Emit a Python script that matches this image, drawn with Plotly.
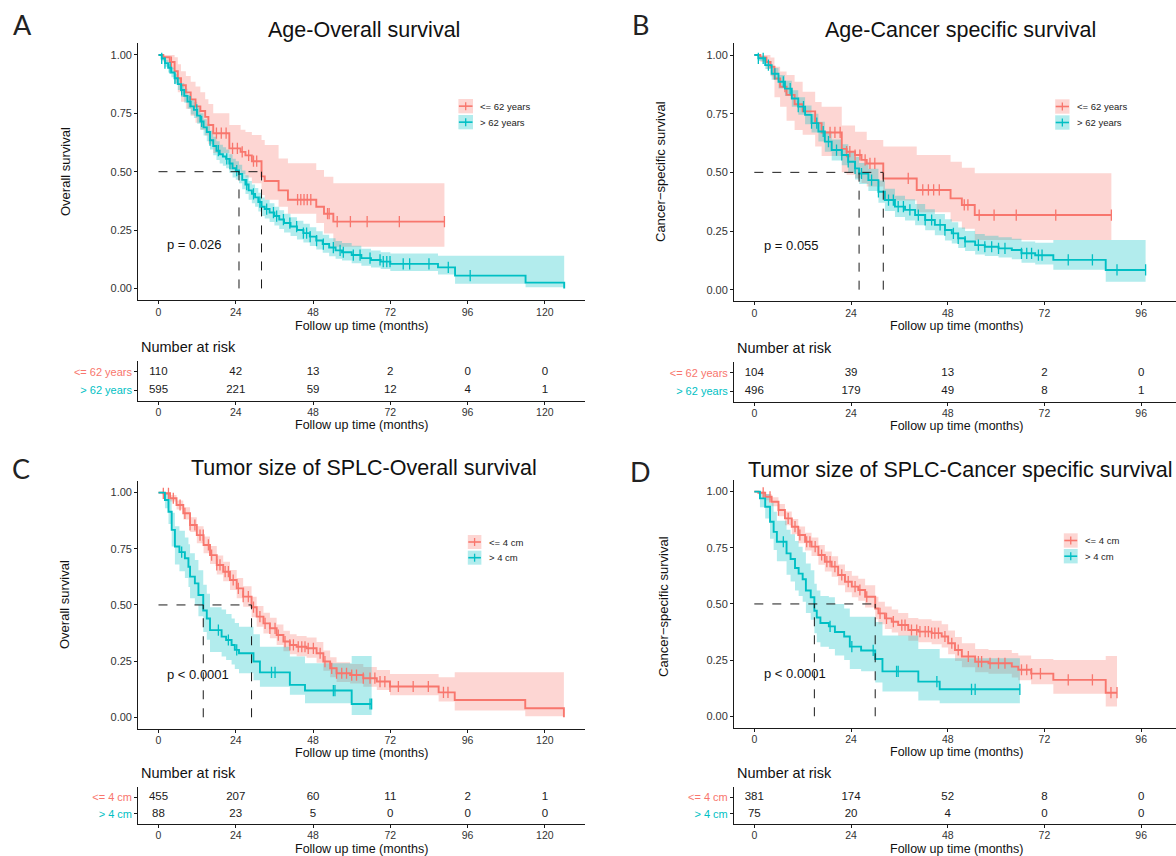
import plotly.graph_objects as go

W, H = 1176, 856
RED, TEAL = "#F8766D", "#00BFC4"
RED_FILL, TEAL_FILL = "rgba(248,118,109,0.3)", "rgba(0,191,196,0.3)"
FONT = "Liberation Sans, Arial, sans-serif"
INK = "#1a1a1a"

# ---------------- DATA ----------------
# Panel A: Age - Overall survival
a_le_t = [1.5, 3.5, 5, 6, 7, 8.5, 10, 11.5, 13, 14.5, 15.5, 17, 22, 25.5, 27, 29, 32, 33, 37.3, 40.2, 49, 51.4, 54.3]
a_le_s = [0.99, 0.97, 0.93, 0.90, 0.87, 0.84, 0.81, 0.78, 0.76, 0.735, 0.70, 0.665, 0.60, 0.585, 0.57, 0.545, 0.48, 0.46, 0.42, 0.38, 0.35, 0.32, 0.286]
a_le_lo = [0.97, 0.94, 0.88, 0.84, 0.80, 0.77, 0.74, 0.71, 0.68, 0.655, 0.62, 0.58, 0.51, 0.49, 0.475, 0.45, 0.40, 0.38, 0.35, 0.32, 0.28, 0.235, 0.179]
a_le_hi = [1.0, 1.0, 0.99, 0.96, 0.93, 0.91, 0.885, 0.865, 0.84, 0.81, 0.79, 0.75, 0.70, 0.68, 0.67, 0.657, 0.636, 0.614, 0.557, 0.536, 0.507, 0.478, 0.45]
a_le_cens = [4, 18, 19.5, 21, 23, 24.5, 26, 28, 29.5, 30.5, 43.2, 44.2, 45.2, 46.2, 47.3, 52.5, 53, 55.5, 59.6, 64.8, 74.8, 88.8]
a_le_end = 88.8

a_gt_t = [1, 2, 3, 4, 5, 6, 7, 8, 9, 10, 11, 12, 13, 14, 15, 16, 17, 18, 19, 20, 21, 22, 23, 24, 25, 26, 27, 28, 29, 30,
          31, 32, 33, 34.5, 36, 37.5, 39, 41, 43, 45, 47, 49, 51, 53, 55, 57, 60, 63, 66, 69, 72, 86.8, 92.1, 114, 126]
a_gt_s = [0.985, 0.965, 0.945, 0.925, 0.90, 0.875, 0.85, 0.825, 0.80, 0.78, 0.765, 0.74, 0.715, 0.69, 0.67, 0.635, 0.61,
          0.59, 0.575, 0.565, 0.555, 0.535, 0.515, 0.505, 0.49, 0.465, 0.445, 0.42, 0.405, 0.39, 0.37, 0.35, 0.34, 0.325,
          0.31, 0.295, 0.28, 0.265, 0.25, 0.237, 0.222, 0.205, 0.19, 0.175, 0.163, 0.155, 0.143, 0.13, 0.122, 0.115,
          0.105, 0.09, 0.055, 0.025, 0.0]
a_gt_lo = [0.975, 0.95, 0.925, 0.905, 0.875, 0.85, 0.82, 0.795, 0.77, 0.745, 0.73, 0.705, 0.68, 0.655, 0.63, 0.595, 0.57,
           0.55, 0.535, 0.525, 0.515, 0.495, 0.475, 0.465, 0.45, 0.425, 0.405, 0.38, 0.365, 0.35, 0.33, 0.31, 0.30, 0.285,
           0.27, 0.255, 0.24, 0.225, 0.21, 0.197, 0.182, 0.167, 0.153, 0.138, 0.127, 0.12, 0.108, 0.097, 0.09, 0.083,
           0.075, 0.06, 0.02, 0.005, 0.0]
a_gt_hi = [0.995, 0.98, 0.96, 0.945, 0.92, 0.90, 0.88, 0.855, 0.83, 0.81, 0.80, 0.775, 0.75, 0.725, 0.705, 0.675, 0.65,
           0.63, 0.615, 0.605, 0.595, 0.575, 0.555, 0.545, 0.53, 0.505, 0.485, 0.46, 0.445, 0.43, 0.41, 0.39, 0.38, 0.365,
           0.35, 0.335, 0.32, 0.305, 0.29, 0.277, 0.262, 0.245, 0.23, 0.215, 0.203, 0.195, 0.183, 0.17, 0.162, 0.155,
           0.15, 0.14, 0.14, 0.14, 0.0]
a_gt_cens = [1, 2, 3.6, 5.1, 7.2, 9.8, 11.9, 13.4, 16, 18.6, 21.2, 22.2, 24.3, 27.4, 29.5, 31.5, 33.6, 35.7, 36.7, 38.8,
             40.8, 42.9, 45, 46, 47.1, 49.1, 51.2, 54.3, 56.4, 57.4, 60.5, 62.6, 65.7, 68.8, 69.8, 70.9, 71.9, 76, 78,
             84, 90, 96.8]
a_gt_end = 126
a_medians = [25.0, 32.0]
a_pval = "p = 0.026"
a_groups = ["<= 62 years", "> 62 years"]
a_risk_times = [0, 24, 48, 72, 96, 120]
a_risk_le = [110, 42, 13, 2, 0, 0]
a_risk_gt = [595, 221, 59, 12, 4, 1]

# Panel B: Age - Cancer specific survival
b_le_t = [1.5, 3, 4, 5, 6.4, 8, 10, 12, 15.1, 16.7, 21.7, 22.9, 25, 26.6, 27.9, 32, 40.3, 48.7, 51.5, 54.7]
b_le_s = [0.99, 0.97, 0.95, 0.90, 0.865, 0.83, 0.79, 0.76, 0.71, 0.67, 0.60, 0.588, 0.574, 0.553, 0.538, 0.474, 0.425, 0.389, 0.361, 0.318]
b_le_lo = [0.97, 0.94, 0.91, 0.82, 0.78, 0.72, 0.68, 0.66, 0.61, 0.57, 0.50, 0.49, 0.475, 0.455, 0.44, 0.38, 0.33, 0.29, 0.26, 0.212]
b_le_hi = [1.0, 1.0, 0.99, 0.95, 0.93, 0.915, 0.886, 0.843, 0.80, 0.78, 0.70, 0.70, 0.673, 0.673, 0.638, 0.61, 0.574, 0.545, 0.52, 0.496]
b_le_cens = [7.6, 18.8, 20, 21.3, 22.9, 23.7, 25, 26.2, 27.5, 28.7, 29.9, 38.2, 41.8, 43.2, 44.5, 45.9, 52.1, 53,
             55.8, 59.5, 65, 74.8, 88.6]
b_le_end = 88.6

b_gt_t = [1, 2.7, 4.3, 6, 7.6, 9.3, 10.9, 12.6, 14.2, 15.9, 17.5, 19.2, 21.7, 23.3, 25, 26, 28.3, 30.8, 32.4, 34.9,
          37.4, 39.9, 42.4, 44.8, 47.3, 49, 50.6, 52.3, 54.8, 57.2, 60.6, 63.9, 66.3, 69.7, 74.2, 87.2]
b_gt_s = [0.986, 0.957, 0.92, 0.886, 0.857, 0.815, 0.78, 0.745, 0.71, 0.674, 0.631, 0.595, 0.574, 0.545, 0.517, 0.495,
          0.467, 0.417, 0.382, 0.354, 0.34, 0.318, 0.297, 0.276, 0.254, 0.24, 0.219, 0.205, 0.19, 0.183, 0.176, 0.169,
          0.155, 0.147, 0.127, 0.084]
b_gt_lo = [0.975, 0.94, 0.895, 0.857, 0.825, 0.78, 0.745, 0.705, 0.67, 0.632, 0.588, 0.55, 0.53, 0.50, 0.47, 0.45,
           0.42, 0.37, 0.335, 0.31, 0.295, 0.275, 0.253, 0.232, 0.21, 0.197, 0.178, 0.165, 0.15, 0.143, 0.137, 0.13,
           0.115, 0.107, 0.085, 0.034]
b_gt_hi = [0.995, 0.975, 0.945, 0.915, 0.89, 0.85, 0.82, 0.785, 0.75, 0.716, 0.675, 0.64, 0.62, 0.59, 0.565, 0.54,
           0.515, 0.465, 0.43, 0.40, 0.385, 0.365, 0.343, 0.322, 0.30, 0.287, 0.265, 0.25, 0.237, 0.23, 0.223, 0.217,
           0.205, 0.20, 0.212, 0.212]
b_gt_cens = [1, 2.2, 3.5, 5.1, 7.2, 8.9, 10.9, 12.2, 14.2, 15.5, 17.1, 18.4, 20.4, 21.7, 23.3, 25, 26.6, 29.1, 30.8,
             33.3, 34.5, 35.7, 37, 38.6, 40.7, 42.4, 44, 46.1, 47.3, 49.4, 50.6, 52.3, 55.6, 57.2, 58.9, 60.6, 62.2,
             66.3, 67.6, 68.8, 70.5, 71.4, 77.9, 83.9, 90, 97.1]
b_gt_end = 97.1
b_medians = [26.0, 32.0]
b_pval = "p = 0.055"
b_groups = ["<= 62 years", "> 62 years"]
b_risk_times = [0, 24, 48, 72, 96]
b_risk_le = [104, 39, 13, 2, 0]
b_risk_gt = [496, 179, 49, 8, 1]

# Panel C: Tumor size of SPLC - Overall survival
c_le_t = [1.5, 3.6, 5.6, 7.7, 9.8, 11.9, 14, 16, 18.1, 20.1, 22.2, 24.3, 26.3, 28.9, 30.5, 32.6, 34.6, 36.7, 38.8,
          40.8, 42.9, 46, 49.1, 51.2, 53.3, 55.3, 59.5, 63.6, 67.8, 71.9, 87, 92, 113.9, 125.9]
c_le_s = [0.997, 0.975, 0.945, 0.908, 0.856, 0.811, 0.767, 0.722, 0.678, 0.648, 0.611, 0.574, 0.537, 0.49, 0.448,
          0.418, 0.396, 0.366, 0.337, 0.322, 0.314, 0.307, 0.285, 0.248, 0.218, 0.196, 0.188, 0.174, 0.159, 0.137,
          0.111, 0.077, 0.04, 0.0]
c_le_lo = [0.99, 0.96, 0.925, 0.88, 0.825, 0.775, 0.73, 0.682, 0.636, 0.605, 0.567, 0.53, 0.492, 0.445, 0.403, 0.373,
           0.352, 0.322, 0.294, 0.28, 0.272, 0.265, 0.243, 0.207, 0.178, 0.157, 0.15, 0.136, 0.121, 0.098, 0.07, 0.03,
           0.005, 0.0]
c_le_hi = [1.0, 0.99, 0.965, 0.935, 0.89, 0.85, 0.805, 0.762, 0.72, 0.692, 0.656, 0.62, 0.583, 0.537, 0.495, 0.465,
           0.443, 0.413, 0.385, 0.37, 0.362, 0.355, 0.335, 0.297, 0.267, 0.245, 0.237, 0.224, 0.21, 0.193, 0.178, 0.20,
           0.20, 0.0]
c_le_cens = [1.5, 3.1, 4.6, 6.7, 8.2, 9.8, 11.3, 12.9, 13.9, 15.5, 16.5, 18.1, 19.1, 20.7, 21.7, 23.2, 24.8, 26.3,
             27.9, 29.5, 31.5, 33.1, 34.6, 36.2, 37.2, 39.3, 40.8, 41.9, 43.4, 44.5, 45.5, 46.5, 48.1, 50.2, 51.7,
             53.8, 55.3, 56.9, 58.4, 60, 61.5, 63.6, 65.7, 67.2, 68.8, 70.3, 71.9, 74.5, 79.1, 83.8, 88.5, 89.9]
c_le_end = 125.9

c_gt_t = [2, 3.1, 4.1, 5.1, 6.5, 8.2, 9.3, 9.8, 11.3, 12.4, 13.9, 15, 16, 19.6, 21, 22.7, 23.7, 25, 29.5, 31.5, 40.8, 45.5, 60]
c_gt_s = [0.967, 0.915, 0.834, 0.76, 0.735, 0.708, 0.67, 0.626, 0.596, 0.544, 0.475, 0.44, 0.388, 0.359, 0.344, 0.322,
          0.30, 0.285, 0.248, 0.20, 0.144, 0.119, 0.059]
c_gt_lo = [0.93, 0.86, 0.76, 0.68, 0.65, 0.62, 0.58, 0.53, 0.50, 0.45, 0.38, 0.345, 0.29, 0.27, 0.255, 0.235, 0.215,
           0.196, 0.165, 0.136, 0.10, 0.062, 0.01]
c_gt_hi = [1.0, 0.97, 0.91, 0.85, 0.83, 0.80, 0.77, 0.73, 0.70, 0.655, 0.59, 0.55, 0.49, 0.48, 0.46, 0.44, 0.42, 0.403,
           0.37, 0.314, 0.27, 0.24, 0.273]
c_gt_cens = [7.2, 18.6, 21.7, 24.3, 35.1, 36.2, 54.3, 54.8, 65.7, 66.2]
c_gt_end = 66.2
c_medians = [13.9, 28.9]
c_pval = "p < 0.0001"
c_groups = ["<= 4 cm", "> 4 cm"]
c_risk_times = [0, 24, 48, 72, 96, 120]
c_risk_le = [455, 207, 60, 11, 2, 1]
c_risk_gt = [88, 23, 5, 0, 0, 0]

# Panel D: Tumor size of SPLC - Cancer specific survival
d_le_t = [1, 2.7, 4.3, 6, 7.6, 9.3, 10.9, 12.6, 14.2, 15.9, 17.5, 19.2, 20.8, 22.5, 24.2, 25.8, 27.5, 30, 30.8, 32.4,
          34.1, 35.7, 38.2, 40.7, 44, 46.5, 48.1, 49.8, 51.5, 54.8, 58.1, 63.9, 65.5, 68.7, 74.2, 87.2]
d_le_s = [0.995, 0.977, 0.955, 0.918, 0.881, 0.844, 0.807, 0.777, 0.755, 0.718, 0.688, 0.666, 0.629, 0.599, 0.577,
          0.562, 0.532, 0.48, 0.458, 0.436, 0.421, 0.406, 0.384, 0.377, 0.37, 0.355, 0.325, 0.295, 0.266, 0.243, 0.236,
          0.221, 0.207, 0.19, 0.162, 0.105]
d_le_lo = [0.988, 0.962, 0.935, 0.89, 0.85, 0.81, 0.77, 0.738, 0.714, 0.675, 0.644, 0.621, 0.583, 0.552, 0.53, 0.514,
           0.484, 0.432, 0.41, 0.388, 0.373, 0.358, 0.336, 0.329, 0.321, 0.306, 0.276, 0.246, 0.218, 0.196, 0.189,
           0.173, 0.16, 0.142, 0.10, 0.043]
d_le_hi = [1.0, 0.99, 0.975, 0.945, 0.912, 0.878, 0.845, 0.817, 0.796, 0.762, 0.733, 0.712, 0.676, 0.647, 0.626, 0.612,
           0.583, 0.532, 0.51, 0.489, 0.475, 0.46, 0.438, 0.432, 0.425, 0.41, 0.382, 0.353, 0.325, 0.30, 0.295, 0.282,
           0.27, 0.255, 0.25, 0.268]
d_le_cens = [2.2, 3.9, 6, 8.4, 10.1, 11.3, 13, 13.8, 15.1, 16.7, 18, 18.8, 20, 21.7, 23.3, 25, 26.2, 27.9, 31.2, 32.8,
             34.5, 36.6, 37.4, 39, 40.3, 41.1, 42.4, 43.2, 44, 44.8, 45.7, 47.3, 49, 50.6, 53.1, 55.6, 56.4, 58.5,
             60.6, 62.2, 66.3, 67.6, 68.8, 71, 77.9, 83.9, 88.5, 90]
d_le_end = 90

d_gt_t = [1.4, 2.7, 3.9, 4.8, 5.6, 8, 9, 10.1, 11, 12, 12.8, 14, 14.9, 15.5, 16.4, 18.5, 20, 22.3, 23.7, 26.5, 30, 31.8, 40.7, 46]
d_gt_s = [0.97, 0.933, 0.866, 0.821, 0.777, 0.725, 0.70, 0.66, 0.635, 0.61, 0.56, 0.53, 0.47, 0.44, 0.415, 0.40, 0.375,
          0.355, 0.31, 0.293, 0.255, 0.20, 0.154, 0.12]
d_gt_lo = [0.93, 0.88, 0.79, 0.74, 0.69, 0.63, 0.60, 0.56, 0.535, 0.51, 0.46, 0.43, 0.37, 0.33, 0.31, 0.30, 0.27, 0.25,
           0.21, 0.20, 0.15, 0.11, 0.07, 0.058]
d_gt_hi = [1.0, 0.99, 0.95, 0.91, 0.87, 0.83, 0.81, 0.78, 0.755, 0.73, 0.68, 0.65, 0.59, 0.56, 0.535, 0.53, 0.50, 0.48,
           0.443, 0.443, 0.42, 0.36, 0.30, 0.258]
d_gt_cens = [7.2, 18.8, 24.2, 29.5, 35.3, 35.7, 45.3, 53.9, 54.8, 65.9]
d_gt_end = 65.9
d_medians = [14.9, 30.0]
d_pval = "p < 0.0001"
d_groups = ["<= 4 cm", "> 4 cm"]
d_risk_times = [0, 24, 48, 72, 96]
d_risk_le = [381, 174, 52, 8, 0]
d_risk_gt = [75, 20, 4, 0, 0]

titles = ["Age-Overall survival", "Age-Cancer specific survival",
          "Tumor size of SPLC-Overall survival", "Tumor size of SPLC-Cancer specific survival"]
ytitles = ["Overall survival", "Cancer\u2212specific survival", "Overall survival", "Cancer\u2212specific survival"]
letters = ["A", "B", "C", "D"]
xtitle = "Follow up time (months)"

# ---------------- HELPERS ----------------
def esc(s):
    return s.replace("<", "&lt;").replace(">", "&gt;")

def surv_at(ts, ss, x):
    v = 1.0
    for t, s in zip(ts, ss):
        if t <= x:
            v = s
    return v

def step_xy(ts, vals, end):
    xs = [0] + list(ts)
    ys = [1.0] + list(vals)
    if end > ts[-1]:
        xs.append(end)
        ys.append(vals[-1])
    return xs, ys

fig = go.Figure()

def add_ribbon(xa, ya, ts, lo, hi, end, fill):
    x1, ylo = step_xy(ts, lo, end)
    x2, yhi = step_xy(ts, hi, end)
    fig.add_trace(go.Scatter(x=x1, y=ylo, mode="lines", line=dict(width=0, shape="hv"),
                             xaxis=xa, yaxis=ya, showlegend=False, hoverinfo="skip"))
    fig.add_trace(go.Scatter(x=x2, y=yhi, mode="lines", line=dict(width=0, shape="hv"),
                             fill="tonexty", fillcolor=fill, xaxis=xa, yaxis=ya,
                             showlegend=False, hoverinfo="skip"))

def add_curve(xa, ya, ts, ss, cens, end, color):
    xs, ys = step_xy(ts, ss, end)
    fig.add_trace(go.Scatter(x=xs, y=ys, mode="lines", line=dict(color=color, width=1.9, shape="hv"),
                             xaxis=xa, yaxis=ya, showlegend=False))
    cy = [surv_at(ts, ss, c) for c in cens]
    fig.add_trace(go.Scatter(x=cens, y=cy, mode="markers",
                             marker=dict(symbol="line-ns", size=8, line=dict(width=1.3, color=color)),
                             xaxis=xa, yaxis=ya, showlegend=False))

def add_medians(xa, ya, meds):
    fig.add_trace(go.Scatter(x=[0, max(meds)], y=[0.5, 0.5], mode="lines",
                             line=dict(color=INK, width=1, dash="dash"), xaxis=xa, yaxis=ya, showlegend=False))
    for m in meds:
        fig.add_trace(go.Scatter(x=[m, m], y=[0, 0.5], mode="lines",
                                 line=dict(color=INK, width=1, dash="dash"), xaxis=xa, yaxis=ya, showlegend=False))

def add_risk(xa, ya, times, le, gt, groups):
    fig.add_trace(go.Scatter(x=times, y=[groups[0]] * len(times), text=[str(v) for v in le], mode="text",
                             textfont=dict(family=FONT, size=11.5, color=INK), xaxis=xa, yaxis=ya, showlegend=False))
    fig.add_trace(go.Scatter(x=times, y=[groups[1]] * len(times), text=[str(v) for v in gt], mode="text",
                             textfont=dict(family=FONT, size=11.5, color=INK), xaxis=xa, yaxis=ya, showlegend=False))

panels = [
    dict(le=(a_le_t, a_le_s, a_le_lo, a_le_hi, a_le_cens, a_le_end),
         gt=(a_gt_t, a_gt_s, a_gt_lo, a_gt_hi, a_gt_cens, a_gt_end),
         med=a_medians, p=a_pval, groups=a_groups, rt=a_risk_times, rle=a_risk_le, rgt=a_risk_gt),
    dict(le=(b_le_t, b_le_s, b_le_lo, b_le_hi, b_le_cens, b_le_end),
         gt=(b_gt_t, b_gt_s, b_gt_lo, b_gt_hi, b_gt_cens, b_gt_end),
         med=b_medians, p=b_pval, groups=b_groups, rt=b_risk_times, rle=b_risk_le, rgt=b_risk_gt),
    dict(le=(c_le_t, c_le_s, c_le_lo, c_le_hi, c_le_cens, c_le_end),
         gt=(c_gt_t, c_gt_s, c_gt_lo, c_gt_hi, c_gt_cens, c_gt_end),
         med=c_medians, p=c_pval, groups=c_groups, rt=c_risk_times, rle=c_risk_le, rgt=c_risk_gt),
    dict(le=(d_le_t, d_le_s, d_le_lo, d_le_hi, d_le_cens, d_le_end),
         gt=(d_gt_t, d_gt_s, d_gt_lo, d_gt_hi, d_gt_cens, d_gt_end),
         med=d_medians, p=d_pval, groups=d_groups, rt=d_risk_times, rle=d_risk_le, rgt=d_risk_gt),
]

# ---------------- LAYOUT GEOMETRY (pixels) ----------------
main_box = [(138.2, 584.5, 43.3, 300.1), (734.0, 1176.0, 43.3, 301.4),
            (138.2, 584.5, 481.4, 728.5), (734.0, 1176.0, 480.4, 727.5)]
risk_box = [(138.2, 584.5, 360.7, 401.0), (734.0, 1176.0, 361.7, 402.0),
            (138.2, 584.5, 787.3, 824.0), (734.0, 1176.0, 787.3, 824.0)]
xranges = [[-6.3, 132.3], [-5.04, 104.64], [-6.3, 132.3], [-5.04, 104.64]]
xticks = [[0, 24, 48, 72, 96, 120], [0, 24, 48, 72, 96], [0, 24, 48, 72, 96, 120], [0, 24, 48, 72, 96]]
title_pos = [(364, 30), (960, 30), (364, 468), (960, 470)]
letter_pos = [(22, 24), (640, 25), (21, 469), (640, 472)]
ytitle_pos = [(66, 172), (661, 172), (64, 605), (663, 607)]
xtitle_pos = [(361, 325.5), (956, 325.5), (361, 752.5), (956, 751.5)]
rxtitle_pos = [(361, 425), (956, 426), (361, 848.5), (956, 848.5)]
nar_pos = [(139.4, 347.3), (734.6, 348.3), (139.4, 773.3), (734.6, 773.3)]
legend_box = [(458.4, 473.0, 99.0, 115.0, 14.3, 478.3), (1055.2, 1069.5, 99.3, 115.3, 14.4, 1074.7),
              (467.8, 481.4, 535.0, 550.7, 14.0, 486.6), (1063.8, 1077.7, 533.3, 549.0, 14.4, 1082.5)]

def fx(p): return p / W
def fy(p): return 1 - p / H

axis_common = dict(showline=True, linecolor=INK, linewidth=1, ticks="outside", ticklen=3, tickcolor=INK,
                   tickwidth=1, showgrid=False, zeroline=False, fixedrange=True,
                   tickfont=dict(family=FONT, size=11, color="#333"))

layout = dict(width=W, height=H, margin=dict(l=0, r=0, t=0, b=0), paper_bgcolor="white",
              plot_bgcolor="white", showlegend=False)
annotations = []
shapes = []

for i, P in enumerate(panels):
    k = i + 1
    kr = i + 5
    xa, ya = ("x" if k == 1 else f"x{k}"), ("y" if k == 1 else f"y{k}")
    xr, yr = f"x{kr}", f"y{kr}"
    t, s, lo, hi, c, e = P["le"]
    add_ribbon(xa, ya, t, lo, hi, e, RED_FILL)
    t2, s2, lo2, hi2, c2, e2 = P["gt"]
    add_ribbon(xa, ya, t2, lo2, hi2, e2, TEAL_FILL)
    add_curve(xa, ya, t, s, c, e, RED)
    add_curve(xa, ya, t2, s2, c2, e2, TEAL)
    add_medians(xa, ya, P["med"])
    add_risk(xr, yr, P["rt"], P["rle"], P["rgt"], P["groups"])

    l, r, tp, bt = main_box[i]
    layout["xaxis" if k == 1 else f"xaxis{k}"] = dict(axis_common, domain=[fx(l), fx(r)], range=xranges[i],
                                                       tickvals=xticks[i], anchor=ya, ticklabelstandoff=-1,
                                                       tickfont=dict(family=FONT, size=10.5, color="#333"))
    layout["yaxis" if k == 1 else f"yaxis{k}"] = dict(axis_common, domain=[fy(bt), fy(tp)], range=[-0.05, 1.05],
                                                       tickvals=[0, 0.25, 0.5, 0.75, 1.0],
                                                       ticktext=["0.00", "0.25", "0.50", "0.75", "1.00"], anchor=xa)
    l, r, tp, bt = risk_box[i]
    layout[f"xaxis{kr}"] = dict(axis_common, domain=[fx(l), fx(r)], range=xranges[i], tickvals=xticks[i],
                                anchor=yr, ticklabelstandoff=-2,
                                tickfont=dict(family=FONT, size=10.5, color="#333"))
    g = P["groups"]
    layout[f"yaxis{kr}"] = dict(axis_common, domain=[fy(bt), fy(tp)], type="category",
                                categoryorder="array", categoryarray=[g[1], g[0]], range=[-0.6, 1.6],
                                tickvals=[g[1], g[0]],
                                ticktext=[f'<span style="color:{TEAL}">{esc(g[1])}</span>',
                                          f'<span style="color:{RED}">{esc(g[0])}</span>'],
                                anchor=xr)

    annotations.append(dict(text=titles[i], x=fx(title_pos[i][0]), y=fy(title_pos[i][1]), xref="paper",
                            yref="paper", showarrow=False, xanchor="center", yanchor="middle",
                            font=dict(family=FONT, size=21.5, color="#111")))
    annotations.append(dict(text=letters[i], x=fx(letter_pos[i][0]), y=fy(letter_pos[i][1]), xref="paper",
                            yref="paper", showarrow=False, xanchor="center", yanchor="middle",
                            font=dict(family="Lato, sans-serif", size=27, color="#222")))
    annotations.append(dict(text=ytitles[i], x=fx(ytitle_pos[i][0]), y=fy(ytitle_pos[i][1]), xref="paper",
                            yref="paper", showarrow=False, xanchor="center", yanchor="middle", textangle=-90,
                            font=dict(family=FONT, size=13, color="#111")))
    for pos in (xtitle_pos[i], rxtitle_pos[i]):
        annotations.append(dict(text=xtitle, x=fx(pos[0]), y=fy(pos[1]), xref="paper", yref="paper",
                                showarrow=False, xanchor="center", yanchor="middle",
                                font=dict(family=FONT, size=12.5, color="#111")))
    annotations.append(dict(text="Number at risk", x=fx(nar_pos[i][0]), y=fy(nar_pos[i][1]), xref="paper",
                            yref="paper", showarrow=False, xanchor="left", yanchor="middle",
                            font=dict(family=FONT, size=14.5, color="#111")))
    annotations.append(dict(text=esc(P["p"]), x=2.0, y=0.19, xref=xa, yref=ya, showarrow=False,
                            xanchor="left", yanchor="middle", font=dict(family=FONT, size=13, color="#111")))
    lx0, lx1, ly0, ly1, lh, tx = legend_box[i]
    for j, (col, fill, name) in enumerate([(RED, RED_FILL, g[0]), (TEAL, TEAL_FILL, g[1])]):
        y0 = [ly0, ly1][j]
        yc = y0 + lh / 2
        shapes.append(dict(type="rect", xref="paper", yref="paper", x0=fx(lx0), x1=fx(lx1), y0=fy(y0 + lh),
                           y1=fy(y0), fillcolor=fill, line=dict(width=0), layer="below"))
        shapes.append(dict(type="line", xref="paper", yref="paper", x0=fx(lx0 + 0.5), x1=fx(lx1 - 0.5),
                           y0=fy(yc), y1=fy(yc), line=dict(color=col, width=1.6)))
        xm = (lx0 + lx1) / 2
        shapes.append(dict(type="line", xref="paper", yref="paper", x0=fx(xm), x1=fx(xm),
                           y0=fy(yc - 4), y1=fy(yc + 4), line=dict(color=col, width=1.3)))
        annotations.append(dict(text=esc(name), x=fx(tx), y=fy(yc), xref="paper", yref="paper",
                                showarrow=False, xanchor="left", yanchor="middle",
                                font=dict(family=FONT, size=9.5, color="#222")))

layout["annotations"] = annotations
layout["shapes"] = shapes
fig.update_layout(**layout)
fig.write_html("out.html")
